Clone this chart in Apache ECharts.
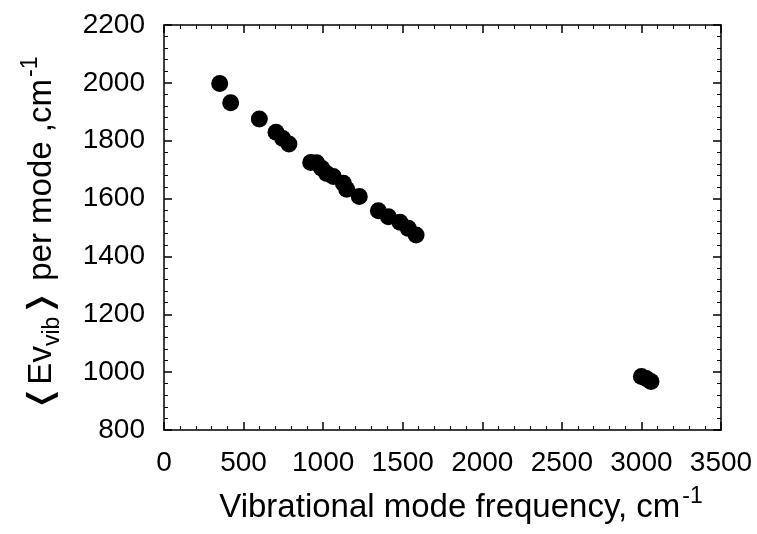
<!DOCTYPE html>
<html>
<head>
<meta charset="utf-8">
<script src="https://cdn.jsdelivr.net/npm/echarts@6/dist/echarts.min.js"></script>
<style>html,body{margin:0;padding:0;background:#fff;}#c{width:757px;height:534px;}</style>
</head>
<body>
<div id="c"></div>
<script>
const frequencies = [350, 419, 599, 704, 746, 785, 922, 959, 991, 1022, 1064, 1127, 1148, 1227, 1347, 1410, 1483, 1535, 1584, 3000, 3030, 3060];
const energies = [1998, 1931, 1875, 1829, 1808, 1789, 1725, 1724, 1705, 1687, 1676, 1653, 1632, 1607, 1558, 1537, 1518, 1497, 1474, 985, 978, 968];
const xTicks = [0, 500, 1000, 1500, 2000, 2500, 3000, 3500];
const yTicks = [800, 1000, 1200, 1400, 1600, 1800, 2000, 2200];

const font = 'Liberation Sans, Arial, sans-serif';
const chart = echarts.init(document.getElementById('c'), null, {renderer: 'canvas'});
const pts = frequencies.map((x, i) => [x, energies[i]]);

function axisCommon(showLabels, pos) {
  return {
    position: pos,
    axisLine: {show: true, onZero: false, lineStyle: {color: '#000', width: 1.5}},
    axisTick: {show: true, inside: true, length: 8, lineStyle: {color: '#000', width: 1.5}},
    minorTick: {show: true, splitNumber: 5, length: 4, lineStyle: {color: '#000', width: 1}},
    splitLine: {show: false},
    axisLabel: {show: showLabels, color: '#000', fontSize: 28, fontFamily: font, margin: 19, formatter: v => String(v)}
  };
}

const option = {
  animation: false,
  backgroundColor: '#fff',
  grid: {left: 164, right: 36, top: 25, bottom: 104},
  xAxis: [
    Object.assign({type: 'value', min: xTicks[0], max: xTicks[xTicks.length - 1], interval: 500}, axisCommon(true, 'bottom')),
    Object.assign({type: 'value', min: xTicks[0], max: xTicks[xTicks.length - 1], interval: 500}, axisCommon(false, 'top'))
  ],
  yAxis: [
    Object.assign({type: 'value', min: yTicks[0], max: yTicks[yTicks.length - 1], interval: 200}, axisCommon(true, 'left')),
    Object.assign({type: 'value', min: yTicks[0], max: yTicks[yTicks.length - 1], interval: 200}, axisCommon(false, 'right'))
  ],
  series: [{
    type: 'scatter',
    data: pts,
    symbol: 'circle',
    symbolSize: 17,
    itemStyle: {color: '#000', opacity: 1}
  }],
  graphic: [
    {
      type: 'text',
      x: 461, y: 508,
      style: {
        text: '{m|Vibrational mode frequency, cm}{s|-1}',
        align: 'center', verticalAlign: 'middle',
        fill: '#000',
        rich: {
          m: {fontSize: 33, fontFamily: font, fill: '#000'},
          s: {fontSize: 23, fontFamily: font, fill: '#000', padding: [0, 0, 22, 2]}
        }
      }
    },
    {
      type: 'text',
      x: 42, y: 234,
      rotation: Math.PI / 2,
      style: {
        text: '{b|\u276C}{m|Ev}{u|vib}{b|\u276D}{m| per mode ,cm}{s|-1}',
        align: 'center', verticalAlign: 'middle',
        fill: '#000',
        rich: {
          b: {fontSize: 32, fontFamily: 'DejaVu Sans', fontWeight: 'bold', fill: '#000'},
          m: {fontSize: 33, fontFamily: font, fill: '#000'},
          u: {fontSize: 23, fontFamily: font, fill: '#000', padding: [12, 0, 0, 0], verticalAlign: 'bottom'},
          s: {fontSize: 23, fontFamily: font, fill: '#000', padding: [0, 0, 22, 2]}
        }
      }
    }
  ]
};
chart.setOption(option);
</script>
</body>
</html>
